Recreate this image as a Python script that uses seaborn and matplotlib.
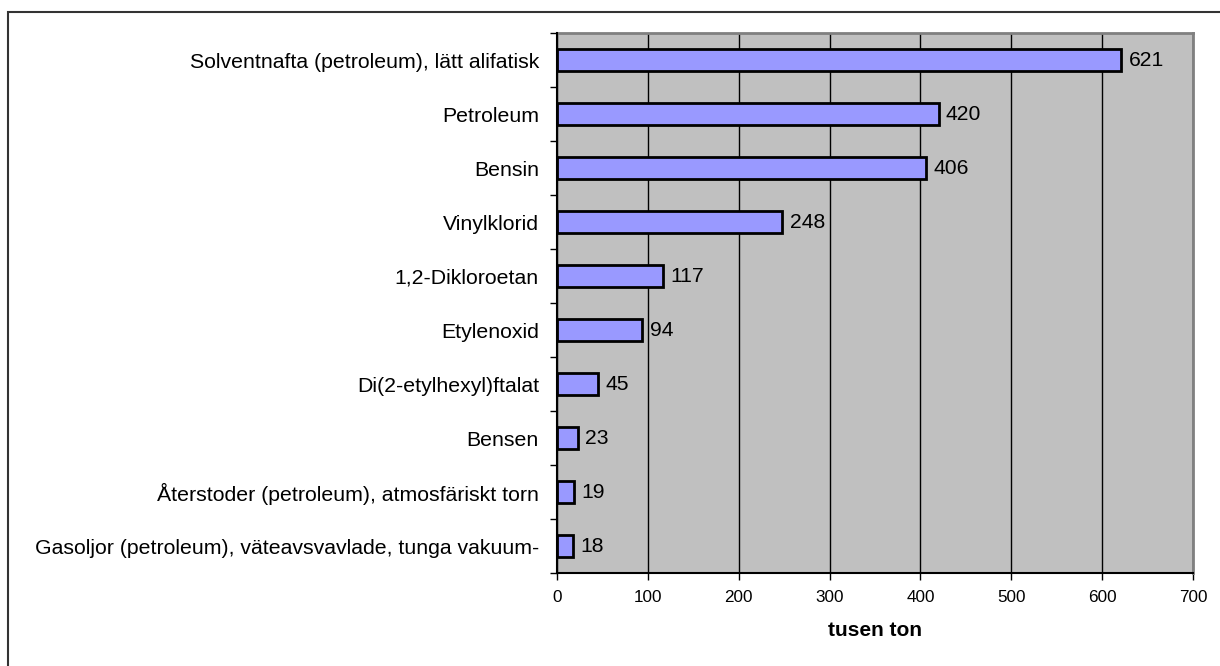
import matplotlib
matplotlib.use("Agg")
import matplotlib.pyplot as plt
from matplotlib.patches import Rectangle
import seaborn as sns
import pandas as pd
import numpy as np

# Ämnen och mängder (tusen ton)
substances = [
    "Solventnafta (petroleum), lätt alifatisk",
    "Petroleum",
    "Bensin",
    "Vinylklorid",
    "1,2-Dikloroetan",
    "Etylenoxid",
    "Di(2-etylhexyl)ftalat",
    "Bensen",
    "Återstoder (petroleum), atmosfäriskt torn",
    "Gasoljor (petroleum), väteavsvavlade, tunga vakuum-",
]
amounts = [621, 420, 406, 248, 117, 94, 45, 23, 19, 18]
x_ticks = [0, 100, 200, 300, 400, 500, 600, 700]

df = pd.DataFrame({"substance": substances, "amount": amounts})

sns.set_theme(style="white")
plt.rcParams["font.family"] = ["Liberation Sans", "DejaVu Sans"]
plt.rcParams["text.color"] = "black"

fig = plt.figure(figsize=(12.2, 6.66), dpi=100)
ax = fig.add_axes([557 / 1220, 1 - 573 / 666, (1193 - 557) / 1220, (573 - 33) / 666])
ax.set_facecolor("#C0C0C0")

sns.barplot(data=df, x="amount", y="substance", orient="h", color="#9999FF",
            saturation=1, edgecolor="black", linewidth=2, width=0.4, ax=ax, zorder=3)

ax.set_xlim(0, 700)
ax.set_ylim(len(substances) - 0.5, -0.5)
ax.set_xticks(x_ticks)
ax.set_xticklabels([str(t) for t in x_ticks], fontsize=12.3)
ax.xaxis.grid(True, color="black", linewidth=1, zorder=1)
ax.set_axisbelow(True)

# Värdeetiketter
for i, v in enumerate(amounts):
    ax.text(v + 8, i, str(v), va="center", ha="left", fontsize=15.2, color="black", zorder=4)

ax.set_ylabel("")
ax.set_xlabel("tusen ton", fontsize=15, fontweight="bold", labelpad=12, color="black")
ax.tick_params(axis="y", which="major", length=0, pad=13, labelsize=15.3, colors="black")
ax.set_yticks(np.arange(-0.5, len(substances), 1), minor=True)
ax.tick_params(axis="y", which="minor", left=True, length=5, width=1, color="black")
ax.tick_params(axis="x", which="major", bottom=True, length=5, width=1, color="black", pad=7,
               labelcolor="black")

for side in ("left", "bottom"):
    ax.spines[side].set_color("black")
    ax.spines[side].set_linewidth(1.5)
    ax.spines[side].set_zorder(5)
for side in ("top", "right"):
    ax.spines[side].set_color("#808080")
    ax.spines[side].set_linewidth(2)

# Ram runt diagrammet
frame = Rectangle((8 / 1220, -0.1), 1.2, 1 - 12 / 666 + 0.1, transform=fig.transFigure,
                  fill=False, edgecolor="#333333", linewidth=1.5, clip_on=False)
fig.patches.append(frame)

fig.savefig("out.png", dpi=100)
